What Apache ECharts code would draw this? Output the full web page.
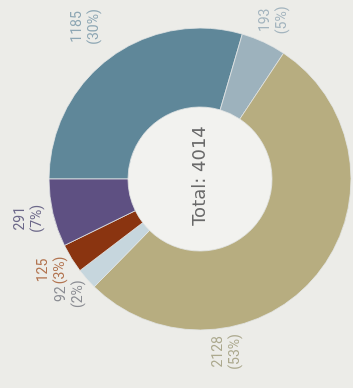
<!DOCTYPE html>
<html><head><meta charset="utf-8">
<script src="https://cdn.jsdelivr.net/npm/echarts@6/dist/echarts.min.js"></script>
<style>
html,body{margin:0;padding:0;width:353px;height:388px;overflow:hidden;background:#ecece8;}
#chart{position:absolute;left:0;top:0;width:388px;height:353px;transform-origin:0 0;transform:translateY(388px) rotate(-90deg);}
</style></head><body><div id="chart"></div>
<script>
const categories = ['Segment 1', 'Segment 2', 'Segment 3', 'Segment 4', 'Segment 5', 'Segment 6'];
const values = [1185, 193, 2128, 92, 125, 291];
const totalPrefix = 'Total: ';
const titleText = 'Division 5';

const sliceColors = ['#5f8799', '#9db2bd', '#b7ad80', '#c6d6dd', '#8a3410', '#5e5082'];
const labelColors = ['#8ea7b4', '#a3b4be', '#aca98e', '#8b8d93', '#b27450', '#6c6889'];

const CX = 209, CY = 200, R_IN = 72, R_OUT = 151;
const total = values.reduce((a, b) => a + b, 0);

// label placement: distance of label centre from pie centre, per slice (style)
const labelDist = [190, 175, 175, 174, 174, 176];
const labelAngleShift = [0, 0, 42, 0, 0, 0];

const midAngles = [];
let cum = 0;
values.forEach(v => { midAngles.push((cum + v / 2) / total * 360); cum += v; });

const chart = echarts.init(document.getElementById('chart'));
chart.setOption({
  backgroundColor: '#ecece8',
  animation: false,
  graphic: [{
    type: 'text', left: -2, top: -18, z: 100, silent: true,
    style: { text: titleText, font: 'bold 22px "DejaVu Sans"', fill: '#6a6a6a' }
  }],
  series: [
    {
      type: 'pie', silent: true, center: [CX, CY], radius: [0, R_IN],
      label: {
        show: true, position: 'center',
        formatter: () => totalPrefix + total,
        fontFamily: 'DejaVu Sans', fontSize: 18, color: '#6a6a6a',
        padding: [2, 0, 0, 6]
      },
      labelLine: { show: false },
      data: [{ value: 1, itemStyle: { color: '#f2f2ef' } }]
    },
    {
      type: 'pie',
      center: [CX, CY],
      radius: [R_IN, R_OUT],
      startAngle: 90,
      clockwise: true,
      avoidLabelOverlap: false,
      percentPrecision: 0,
      itemStyle: { borderColor: '#e2e5e4', borderWidth: 0.8 },
      label: {
        show: true, position: 'outside',
        formatter: '{c}\n({d}%)',
        fontFamily: 'Roboto', fontSize: 14, lineHeight: 17, align: 'center'
      },
      labelLine: { show: false },
      labelLayout: function (p) {
        const i = p.dataIndex;
        const a = (midAngles[i] + labelAngleShift[i]) * Math.PI / 180;
        return { x: CX + labelDist[i] * Math.sin(a), y: CY - labelDist[i] * Math.cos(a),
                 align: 'center', verticalAlign: 'middle' };
      },
      data: values.map((v, i) => ({
        name: categories[i], value: v,
        itemStyle: { color: sliceColors[i] },
        label: { color: labelColors[i] }
      }))
    }
  ]
});
</script></body></html>
